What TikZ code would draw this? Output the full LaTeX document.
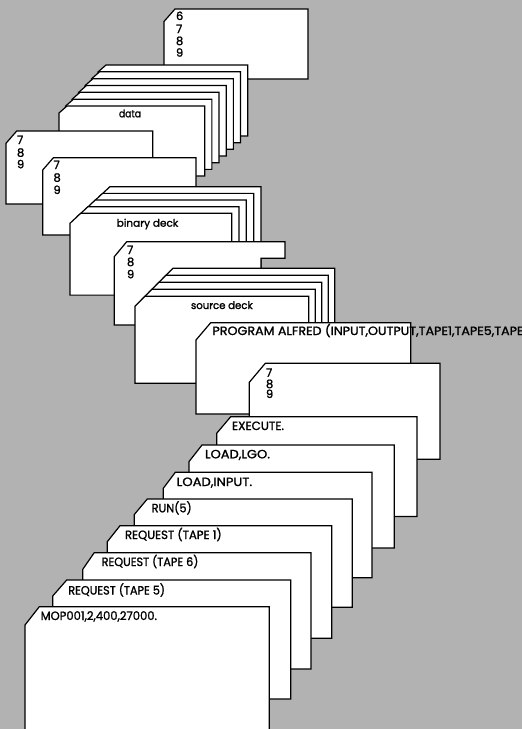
\documentclass[tikz,border=0pt]{standalone}
\usepackage{fontspec}
\usepackage{graphicx}
\setmainfont{Poppins}[FakeBold=1.4]
\definecolor{bggray}{RGB}{178,178,178}
\newcommand\fitw[2]{\resizebox{#1pt}{\height}{#2}}
\newcommand\capfont{\fontsize{12}{14}\selectfont}
\newcommand\lcfont{\fontsize{10.5}{12}\selectfont}
\newcommand\digfont{\fontsize{11.5}{13}\selectfont}
% L T R B cutx cuty
\newcommand\pcard[6]{\filldraw[cardshape] (#1,#2+#6) -- (#1+#5,#2) -- (#3,#2) -- (#3,#4) -- (#1,#4) -- cycle;}
\begin{document}
\begin{tikzpicture}[x=1pt,y=-1pt,
  cardshape/.style={fill=white,draw=black,line width=1.2pt,line join=miter},
  lbl/.style={inner sep=0pt,outer sep=0pt,anchor=base west,font=\capfont},
  lc/.style={inner sep=0pt,outer sep=0pt,anchor=base west,font=\lcfont},
  dig/.style={inner sep=0pt,outer sep=0pt,anchor=base west,font=\digfont}]
\useasboundingbox (0,0) rectangle (522,729);
\fill[bggray] (0,0) rectangle (522,729);
\clip (0,0) rectangle (522,729);

% top card 6 7 8 9
\pcard{164}{9}{308}{79}{11}{12.5}
\node[dig] (c1a) at (176,20) {6};
\node[dig] (c1b) at (176,33) {7};
\node[dig] (c1c) at (176,45) {8};
\node[dig] (c1d) at (176,56.7) {9};

% data deck
\foreach \k in {0,...,6}{
  \pgfmathsetmacro\L{98-6.5*\k}
  \pgfmathsetmacro\T{65+6.83*\k}
  \pgfmathsetmacro\R{247.7-7.17*\k}
  \pgfmathsetmacro\B{136+6.67*\k}
  \pcard{\L}{\T}{\R}{\B}{8}{7}
}
\node[lc] (tdata) at (119,117.3) {\fitw{22}{data}};

% 7 8 9 card (a)
\pcard{6}{131}{152.7}{204}{10.7}{12.3}
\node[dig] (c2a) at (17,144) {7};
\node[dig] (c2b) at (17,156.7) {8};
\node[dig] (c2c) at (17,168.3) {9};

% 7 8 9 card (b)
\pcard{42.7}{157.7}{196}{235}{10.7}{12.3}
\node[dig] (c3a) at (53.5,169) {7};
\node[dig] (c3b) at (53.5,181.7) {8};
\node[dig] (c3c) at (53.5,194) {9};

% binary deck
\foreach \k in {0,...,4}{
  \pgfmathsetmacro\L{99.2-7.3*\k}
  \pgfmathsetmacro\T{186.7+6.65*\k}
  \pgfmathsetmacro\R{261-7.33*\k}
  \pgfmathsetmacro\B{268.7+6.6*\k}
  \pcard{\L}{\T}{\R}{\B}{10.7}{10}
}
\node[lc] (tbin) at (116.7,226.7) {\fitw{61.6}{binary deck}};

% 7 8 9 card (c)
\filldraw[cardshape] (114.3,256.7) -- (126.7,241.7) -- (285,241.7) -- (285,258.3)
  -- (261,258.3) -- (261,325) -- (114.3,325) -- cycle;
\node[dig] (c4a) at (127,254) {7};
\node[dig] (c4b) at (127,266) {8};
\node[dig] (c4c) at (127,278.3) {9};

% source deck
\foreach \k in {0,...,4}{
  \pgfmathsetmacro\L{163-7*\k}
  \pgfmathsetmacro\T{268.3+7*\k}
  \pgfmathsetmacro\R{334.7-6.5*\k}
  \pgfmathsetmacro\B{355.3+7*\k}
  \pcard{\L}{\T}{\R}{\B}{10}{10}
}
\node[lc] (tsrc) at (191,309) {\fitw{61.7}{source deck}};

% PROGRAM card
\pcard{196}{322.7}{410.7}{414}{14.7}{17.3}
\node[lbl] (tprog) at (212.5,335) {\fitw{311}{PROGRAM ALFRED (INPUT,OUTPUT,TAPE1,TAPE5,TAPE}};

% 7 8 9 card (d)
\pcard{249.3}{363.3}{440}{459.3}{16}{19}
\node[dig] (c5a) at (266,376.7) {7};
\node[dig] (c5b) at (266,388) {8};
\node[dig] (c5c) at (266,398) {9};

% control cards
\pcard{216.7}{416.7}{417}{516.5}{14}{16.6}
\node[lbl] (tex) at (232,430) {\fitw{52}{EXECUTE.}};

\pcard{189}{445}{394.3}{548}{13}{16.6}
\node[lbl] (tll) at (205,458.3) {\fitw{65}{LOAD,LGO.}};

\pcard{163.3}{472.3}{372}{577.7}{12}{16}
\node[lbl] (tli) at (176.7,486) {\fitw{75.5}{LOAD,INPUT.}};

\pcard{134.3}{499}{352.3}{607.3}{13}{15.5}
\node[lbl] (trun) at (151.7,512.3) {\fitw{40}{RUN(5)}};

\pcard{107.3}{525.7}{331.7}{638.3}{12.7}{16}
\node[lbl] (tr1) at (125,539) {\fitw{96.7}{REQUEST (TAPE 1)}};

\pcard{82.7}{552.7}{311}{669}{11.5}{16.7}
\node[lbl] (tr6) at (101.7,566) {\fitw{96.7}{REQUEST (TAPE 6)}};

\pcard{52.7}{580}{290.7}{699}{14}{16}
\node[lbl] (tr5) at (68.3,594.5) {\fitw{96.7}{REQUEST (TAPE 5)}};

\pcard{25}{606.7}{269.3}{740}{14.3}{18.3}
\node[lbl] (tmop) at (40.7,620) {\fitw{116.3}{MOP001,2,400,27000.}};
\end{tikzpicture}
\end{document}
